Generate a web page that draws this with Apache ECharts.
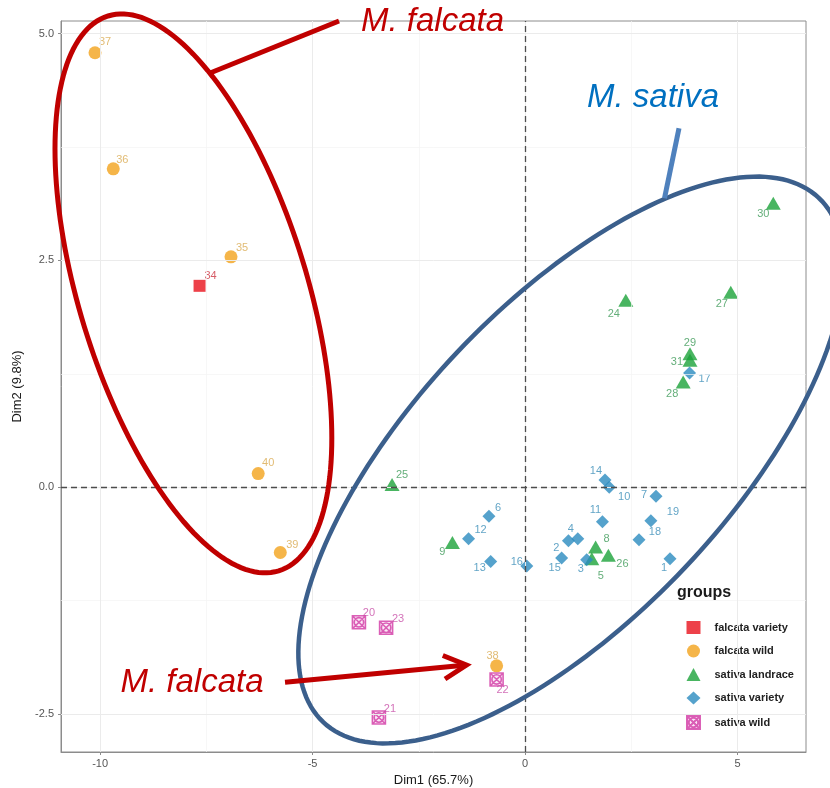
<!DOCTYPE html>
<html>
<head>
<meta charset="utf-8">
<script src="https://cdn.jsdelivr.net/npm/echarts@6/dist/echarts.min.js"></script>
<style>
  html, body { margin: 0; padding: 0; background: #ffffff; }
  #chart { width: 830px; height: 788px; }
</style>
</head>
<body>
<div id="chart"></div>
<script>
// PCA of individuals: coordinates on Dim1 / Dim2, one set of arrays per group
const groupNames = ['falcata variety', 'falcata wild', 'sativa landrace', 'sativa variety', 'sativa wild'];

const falcataVarietyIds  = ['34'];
const falcataVarietyDim1 = [-7.66];
const falcataVarietyDim2 = [2.22];

const falcataWildIds  = ['35', '36', '37', '38', '39', '40'];
const falcataWildDim1 = [-6.92, -9.69, -10.12, -0.67, -5.76, -6.28];
const falcataWildDim2 = [2.54, 3.51, 4.79, -1.97, -0.72, 0.15];

const sativaLandraceIds  = ['5', '8', '9', '24', '25', '26', '27', '28', '29', '30', '31'];
const sativaLandraceDim1 = [1.57, 1.66, -1.71, 2.37, -3.13, 1.96, 4.84, 3.72, 3.88, 5.84, 3.88];
const sativaLandraceDim2 = [-0.79, -0.66, -0.61, 2.06, 0.03, -0.75, 2.15, 1.16, 1.47, 3.13, 1.40];

const sativaVarietyIds  = ['1', '2', '3', '4', '6', '7', '10', '11', '12', '13', '14', '15', '16', '17', '18', '19'];
const sativaVarietyDim1 = [3.41, 1.02, 1.45, 1.24, -0.85, 3.08, 1.98, 1.82, -1.33, -0.81, 1.88, 0.86, 0.04, 3.87, 2.68, 2.96];
const sativaVarietyDim2 = [-0.79, -0.59, -0.80, -0.57, -0.32, -0.10, 0.00, -0.38, -0.57, -0.82, 0.08, -0.78, -0.87, 1.26, -0.58, -0.37];

const sativaWildIds  = ['20', '21', '22', '23'];
const sativaWildDim1 = [-3.91, -3.44, -0.67, -3.27];
const sativaWildDim2 = [-1.49, -2.54, -2.12, -1.55];

// axis ticks and grid lines
const xTicks = [-10, -5, 0, 5];
const yTicks = [-2.5, 0, 2.5, 5];
const xMinorTicks = [-7.5, -2.5, 2.5];
const yMinorTicks = [-1.25, 1.25, 3.75];
const xRange = [-10.92, 6.61];
const yRange = [-2.92, 5.14];

// where each point label sits relative to its point (px)
const labelOffsets = {
  '34': [11, -10], '35': [11, -9], '36': [9, -9], '37': [10, -11], '38': [-4, -10], '39': [12, -8], '40': [10, -11],
  '5': [9, 17], '8': [11, -8], '9': [-10, 9], '24': [-12, 14], '25': [10, -9], '26': [14, 9], '27': [-9, 12],
  '28': [-11, 12], '29': [0, -11], '30': [-10, 11], '31': [-13, 2],
  '1': [-6, 9], '2': [-12, 7], '3': [-6, 9], '4': [-7, -10], '6': [9, -8], '7': [-12, -1], '10': [15, 10],
  '11': [-7, -12], '12': [12, -9], '13': [-11, 6], '14': [-9, -9], '15': [-7, 10], '16': [-10, -4],
  '17': [15, 6], '18': [16, -8], '19': [22, -9],
  '20': [10, -9], '21': [11, -9], '22': [6, 11], '23': [12, -9]
};

const FONT = '"Liberation Sans", Arial, sans-serif';
const wildSymbol = 'path://M1,1H19V19H1Z M1,1L19,19 M19,1L1,19 M10,3.5A6.5,6.5,0,1,1,9.99,3.5Z';

function groupSeries(name, ids, xs, ys, symbol, size, itemStyle, labelColor) {
  return {
    type: 'scatter',
    name: name,
    symbol: symbol,
    symbolSize: size,
    itemStyle: itemStyle,
    z: 3,
    emphasis: { disabled: true },
    label: {
      show: true,
      position: 'inside',
      formatter: '{b}',
      color: labelColor,
      fontSize: 11,
      fontFamily: FONT
    },
    data: ids.map(function (id, i) {
      return { name: id, value: [xs[i], ys[i]], label: { offset: labelOffsets[id] } };
    })
  };
}

function ellipsePoints(cx, cy, a, b, ux, uy, n) {
  const pts = [];
  const vx = -uy, vy = ux;
  for (let k = 0; k < n; k++) {
    const t = 2 * Math.PI * k / n;
    const c = Math.cos(t), s = Math.sin(t);
    pts.push([cx + a * c * ux + b * s * vx, cy + a * c * uy + b * s * vy]);
  }
  return pts;
}

const gridLine = function (axis, v, color, width) {
  const d = { lineStyle: { color: color, width: width, type: 'solid' } };
  d[axis] = v;
  return d;
};

const chart = echarts.init(document.getElementById('chart'), null, { renderer: 'canvas' });

chart.setOption({
  animation: false,
  backgroundColor: '#ffffff',
  grid: {
    left: 61, right: 24, top: 21, bottom: 36,
    outerBoundsMode: 'none',
    containLabel: false,
    show: true, borderColor: '#8c8c8c', borderWidth: 1, backgroundColor: '#ffffff'
  },
  xAxis: {
    type: 'value',
    min: xRange[0], max: xRange[1],
    name: 'Dim1 (65.7%)',
    nameLocation: 'middle',
    nameGap: 20,
    nameTextStyle: { fontSize: 13, color: '#1a1a1a', fontFamily: FONT },
    axisLine: { show: true, onZero: false, lineStyle: { color: '#8c8c8c', width: 1 } },
    axisTick: { show: true, length: 3, customValues: xTicks, lineStyle: { color: '#8c8c8c' } },
    axisLabel: { customValues: xTicks, margin: 6, fontSize: 11, color: '#555555', fontFamily: FONT },
    splitLine: { show: false }
  },
  yAxis: {
    type: 'value',
    min: yRange[0], max: yRange[1],
    name: 'Dim2 (9.8%)',
    nameLocation: 'middle',
    nameGap: 31,
    nameRotate: 90,
    nameTextStyle: { fontSize: 13, color: '#1a1a1a', fontFamily: FONT },
    axisLine: { show: true, onZero: false, lineStyle: { color: '#8c8c8c', width: 1 } },
    axisTick: { show: true, length: 3, customValues: yTicks, lineStyle: { color: '#8c8c8c' } },
    axisLabel: {
      customValues: yTicks, margin: 7, fontSize: 11, color: '#555555', fontFamily: FONT,
      formatter: function (v) { return Number(v).toFixed(1); }
    },
    splitLine: { show: false }
  },
  legend: {
    orient: 'vertical',
    left: 681,
    top: 616,
    itemWidth: 14,
    itemHeight: 13,
    itemGap: 10.5,
    selectedMode: false,
    textStyle: { fontSize: 11, fontWeight: 'bold', color: '#222222', fontFamily: FONT, padding: [0, 0, 0, 9] },
    data: groupNames
  },
  series: [
    {
      // panel grid
      type: 'scatter', name: 'grid', data: [], z: 1, silent: true,
      markLine: {
        silent: true, symbol: 'none', animation: false, label: { show: false },
        data: [].concat(
          xMinorTicks.map(function (v) { return gridLine('xAxis', v, '#f3f3f3', 0.7); }),
          yMinorTicks.map(function (v) { return gridLine('yAxis', v, '#f3f3f3', 0.7); }),
          xTicks.map(function (v) { return gridLine('xAxis', v, '#ebebeb', 1); }),
          yTicks.map(function (v) { return gridLine('yAxis', v, '#ebebeb', 1); })
        )
      }
    },
    {
      // origin reference lines
      type: 'scatter', name: 'origin', data: [], z: 2, silent: true,
      markLine: {
        silent: true, symbol: 'none', animation: false, label: { show: false },
        lineStyle: { color: '#4d4d4d', width: 1.3, type: [6, 4] },
        data: [{ xAxis: 0 }, { yAxis: 0 }]
      }
    },
    groupSeries(groupNames[0], falcataVarietyIds, falcataVarietyDim1, falcataVarietyDim2,
      'rect', 12, { color: '#e8121c' }, '#cc3340'),
    groupSeries(groupNames[1], falcataWildIds, falcataWildDim1, falcataWildDim2,
      'circle', 13, { color: '#f2a31b' }, '#d9aa50'),
    groupSeries(groupNames[2], sativaLandraceIds, sativaLandraceDim1, sativaLandraceDim2,
      'triangle', [15, 13], { color: '#1ca33a' }, '#3c9a58'),
    groupSeries(groupNames[3], sativaVarietyIds, sativaVarietyDim1, sativaVarietyDim2,
      'diamond', 13, { color: '#2b8bbf' }, '#3a8db8'),
    groupSeries(groupNames[4], sativaWildIds, sativaWildDim1, sativaWildDim2,
      wildSymbol, 13, { color: 'rgba(235,140,210,0.25)', borderColor: '#d23aa5', borderWidth: 1.6 }, '#c84fa8')
  ],
  graphic: [
    {
      type: 'text', left: 677, top: 585, z: 50,
      style: { text: 'groups', font: 'bold 16px ' + FONT, fill: '#1a1a1a' }
    },
    // group outlines
    {
      type: 'polygon', z: 100, silent: true,
      shape: { points: ellipsePoints(193.4, 293.4, 290.2, 114, 0.294, 0.956, 180), smooth: 0 },
      style: { fill: 'none', stroke: '#c00000', lineWidth: 5 }
    },
    {
      type: 'polygon', z: 100, silent: true,
      shape: { points: ellipsePoints(571, 460, 360.6, 156.7, 0.687, -0.727, 200), smooth: 0 },
      style: { fill: 'none', stroke: '#3b5f8c', lineWidth: 4.5 }
    },
    // callouts
    {
      type: 'line', z: 100, silent: true,
      shape: { x1: 210.7, y1: 72.7, x2: 339, y2: 21 },
      style: { stroke: '#c00000', lineWidth: 5 }
    },
    {
      type: 'line', z: 100, silent: true,
      shape: { x1: 664.5, y1: 198.3, x2: 679, y2: 128.3 },
      style: { stroke: '#4f81bd', lineWidth: 5 }
    },
    {
      type: 'line', z: 100, silent: true,
      shape: { x1: 285, y1: 682.3, x2: 464, y2: 665.2 },
      style: { stroke: '#c00000', lineWidth: 5 }
    },
    {
      type: 'polyline', z: 100, silent: true,
      shape: { points: [[442.8, 655.5], [466.5, 665], [445, 679]] },
      style: { stroke: '#c00000', lineWidth: 5, fill: 'none', lineJoin: 'miter' }
    },
    {
      type: 'text', x: 361, y: 22, z: 100, silent: true,
      style: { text: 'M. falcata', font: 'italic 33px ' + FONT, fill: '#c00000', verticalAlign: 'middle' }
    },
    {
      type: 'text', x: 587, y: 97.5, z: 100, silent: true,
      style: { text: 'M. sativa', font: 'italic 33px ' + FONT, fill: '#0070c0', verticalAlign: 'middle' }
    },
    {
      type: 'text', x: 120.5, y: 682.5, z: 100, silent: true,
      style: { text: 'M. falcata', font: 'italic 33px ' + FONT, fill: '#c00000', verticalAlign: 'middle' }
    }
  ]
});
</script>
</body>
</html>
